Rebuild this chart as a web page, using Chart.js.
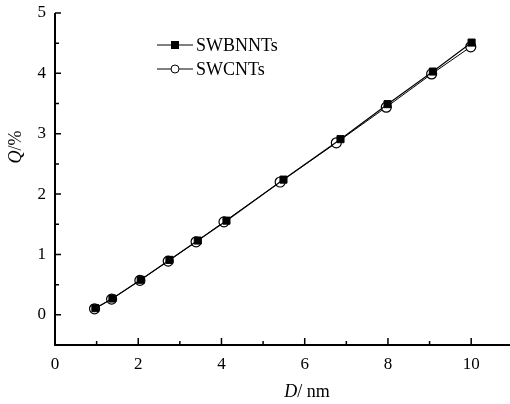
<!DOCTYPE html>
<html lang="en">
<head>
  <meta charset="UTF-8">
  <title>Q vs D</title>
  <style>
    body { margin: 0; background: #fff; overflow: hidden; }
    /* um pouco mais largo que a janela: o eixo x vai até a borda */
    .container_grafico { width: 519px; height: 404px; }
  </style>
</head>
<body>
  <div class="container_grafico">
    <canvas id="grafico"></canvas>
  </div>
  <script src="https://cdn.jsdelivr.net/npm/chart.js"></script>
  <script>
    // dados
    var rotulosSeries = ['SWBNNTs', 'SWCNTs'];
    var diametroBN = [0.97, 1.38, 2.06, 2.75, 3.43, 4.12, 5.49, 6.86, 7.99, 9.08, 10.01];
    var qBN = [0.11, 0.27, 0.58, 0.91, 1.23, 1.56, 2.24, 2.91, 3.49, 4.03, 4.51];
    var diametroC = [0.95, 1.36, 2.04, 2.72, 3.39, 4.06, 5.41, 6.76, 7.96, 9.05, 9.99];
    var qC = [0.10, 0.26, 0.57, 0.89, 1.21, 1.54, 2.20, 2.85, 3.44, 3.99, 4.44];
    var ticksX = [0, 2, 4, 6, 8, 10];
    var ticksY = [0, 1, 2, 3, 4, 5];

    const fonte = '"Liberation Serif", "DejaVu Serif", serif';

    function pontos(xs, ys) {
      var lista = [];
      for (var i = 0; i < xs.length; i++) {
        lista.push({ x: xs[i], y: ys[i] });
      }
      return lista;
    }

    // ticks para dentro, eixos, titulos e legenda desenhados à mão
    const extras = {
      id: 'extras',
      afterDraw(chart) {
        const ctx = chart.ctx;
        const area = chart.chartArea;
        const sx = chart.scales.x;
        const sy = chart.scales.y;
        ctx.save();
        ctx.strokeStyle = '#000';
        ctx.lineWidth = 1.5;
        ctx.beginPath();
        for (var v = 0; v <= 11; v++) {
          var px = sx.getPixelForValue(v);
          var len = ticksX.indexOf(v) >= 0 ? 7 : 4;
          ctx.moveTo(px, area.bottom);
          ctx.lineTo(px, area.bottom - len);
        }
        for (var w = -0.5; w <= 5; w += 0.5) {
          var py = sy.getPixelForValue(w);
          var len2 = ticksY.indexOf(w) >= 0 ? 6 : 4;
          ctx.moveTo(area.left, py);
          ctx.lineTo(area.left + len2, py);
        }
        ctx.stroke();

        // eixos
        ctx.lineWidth = 2;
        ctx.beginPath();
        ctx.moveTo(area.left, area.top);
        ctx.lineTo(area.left, area.bottom);
        ctx.lineTo(area.right, area.bottom);
        ctx.stroke();

        // titulos dos eixos
        ctx.fillStyle = '#000';
        ctx.textBaseline = 'middle';
        ctx.textAlign = 'left';
        ctx.font = 'italic 18px ' + fonte;
        var wD = ctx.measureText('D').width;
        ctx.font = '18px ' + fonte;
        var wNm = ctx.measureText('/ nm').width;
        var x0 = 307 - (wD + wNm) / 2;
        ctx.font = 'italic 18px ' + fonte;
        ctx.fillText('D', x0, 392);
        ctx.font = '18px ' + fonte;
        ctx.fillText('/ nm', x0 + wD, 392);

        ctx.save();
        ctx.translate(16, 147);
        ctx.rotate(-Math.PI / 2);
        ctx.font = 'italic 18px ' + fonte;
        var wQ = ctx.measureText('Q').width;
        ctx.font = '18px ' + fonte;
        var wP = ctx.measureText('/%').width;
        var y0 = -(wQ + wP) / 2;
        ctx.font = 'italic 18px ' + fonte;
        ctx.fillText('Q', y0, 0);
        ctx.font = '18px ' + fonte;
        ctx.fillText('/%', y0 + wQ, 0);
        ctx.restore();

        // legenda
        var linhas = [45, 69];
        chart.data.datasets.forEach(function (ds, i) {
          var ly = linhas[i];
          ctx.lineWidth = 1;
          ctx.strokeStyle = '#000';
          ctx.beginPath();
          ctx.moveTo(157, ly);
          ctx.lineTo(193, ly);
          ctx.stroke();
          ctx.beginPath();
          if (ds.pointStyle === 'rect') {
            ctx.fillStyle = '#000';
            ctx.fillRect(171, ly - 4, 8, 8);
          } else {
            ctx.fillStyle = '#fff';
            ctx.arc(175, ly, 4, 0, Math.PI * 2);
            ctx.fill();
            ctx.stroke();
          }
          ctx.fillStyle = '#000';
          ctx.font = '18px ' + fonte;
          ctx.fillText(ds.label, 196, ly + 1);
        });
        ctx.restore();
      }
    };

    const config = {
      type: 'line',
      data: {
        datasets: [
          {
            label: rotulosSeries[0],
            data: pontos(diametroBN, qBN),
            borderColor: '#000',
            borderWidth: 1.2,
            backgroundColor: '#000',
            pointStyle: 'rect',
            pointRadius: 5,
            pointBorderWidth: 1,
            pointBorderColor: '#000',
            pointBackgroundColor: '#000'
          },
          {
            label: rotulosSeries[1],
            data: pontos(diametroC, qC),
            borderColor: '#000',
            borderWidth: 1,
            backgroundColor: '#fff',
            pointStyle: 'circle',
            pointRadius: 5,
            pointBorderWidth: 1.2,
            pointBorderColor: '#000',
            pointBackgroundColor: '#fff'
          }
        ]
      },
      options: {
        responsive: true,
        maintainAspectRatio: false,
        animation: false,
        layout: { padding: { top: 13, right: 0, left: 0, bottom: 0 } },
        plugins: {
          legend: { display: false },
          tooltip: { enabled: false }
        },
        scales: {
          x: {
            type: 'linear',
            min: 0,
            max: 11,
            grid: { display: false, drawTicks: false },
            border: { display: false },
            afterFit: function (s) {
              s.height = 59;
              s.paddingLeft = 0;
              s.paddingRight = 0;
            },
            ticks: {
              stepSize: 1,
              padding: 9,
              maxRotation: 0,
              autoSkip: false,
              color: '#000',
              font: { family: fonte, size: 17 },
              callback: function (v) { return ticksX.indexOf(v) >= 0 ? String(v) : ''; }
            }
          },
          y: {
            min: -0.5,
            max: 5,
            grid: { display: false, drawTicks: false },
            border: { display: false },
            afterFit: function (s) {
              s.width = 55;
              s.paddingTop = 0;
              s.paddingBottom = 0;
            },
            ticks: {
              stepSize: 0.5,
              padding: 9,
              autoSkip: false,
              color: '#000',
              font: { family: fonte, size: 17 },
              callback: function (v) { return ticksY.indexOf(v) >= 0 ? String(v) : ''; }
            }
          }
        }
      },
      plugins: [extras]
    };

    let meuGrafico = new Chart(document.getElementById('grafico'), config);
  </script>
</body>
</html>
